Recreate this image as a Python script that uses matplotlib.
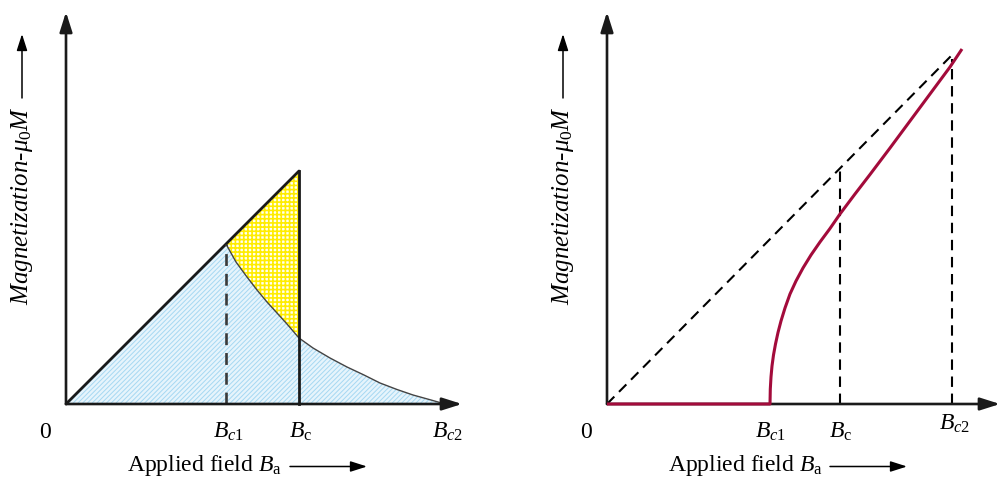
import matplotlib
matplotlib.use("Agg")
import matplotlib.pyplot as plt
import numpy as np

plt.rcParams['font.family'] = ['Liberation Serif', 'DejaVu Serif']
plt.rcParams['mathtext.fontset'] = 'custom'
plt.rcParams['mathtext.rm'] = 'Liberation Serif'
plt.rcParams['mathtext.it'] = 'Liberation Serif:italic'
plt.rcParams['mathtext.bf'] = 'Liberation Serif:bold'

# ---- Type I superconductor (left) ----
left_bc1 = 1.60
left_bc = 2.33
left_bc2 = 3.79
# reversible magnetization beyond Bc1 (mixed-state branch)
left_curve_b = [1.60, 1.70, 1.81, 1.91, 2.01, 2.11, 2.21, 2.33, 2.47, 2.64, 2.81, 2.98, 3.14, 3.31, 3.47, 3.65, 3.79]
left_curve_m = [1.60, 1.42, 1.27, 1.14, 1.02, 0.91, 0.80, 0.66, 0.56, 0.46, 0.37, 0.29, 0.21, 0.145, 0.09, 0.04, 0.00]

# ---- Type II superconductor (right) ----
right_bc1 = 1.63
right_bc = 2.33
right_bc2 = 3.45
right_curve_b = [0.00, 1.630, 1.633, 1.640, 1.650, 1.665, 1.685, 1.710, 1.740, 1.780,
                 1.830, 1.890, 1.960, 2.040, 2.130, 2.230, 2.330, 2.480, 2.630,
                 2.830, 3.030, 3.230, 3.430, 3.550]
right_curve_m = [0.00, 0.000, 0.150, 0.270, 0.380, 0.490, 0.600, 0.715, 0.830, 0.960,
                 1.100, 1.230, 1.360, 1.490, 1.620, 1.755, 1.900, 2.100, 2.295,
                 2.560, 2.830, 3.100, 3.370, 3.550]

FS = 17
FS_Y = 18
fig = plt.figure(figsize=(10.01, 4.79), dpi=100)
axL = fig.add_axes([0, 0, 0.5, 1])
axR = fig.add_axes([0.5, 0, 0.5, 1])
axL.set_xlim(-0.66, 4.345)
axR.set_xlim(-1.065, 3.94)
for ax in (axL, axR):
    ax.set_ylim(-0.75, 4.04)
    ax.axis('off')


def axis_arrow(ax, x0, y0, x1, y1):
    ax.annotate('', xy=(x1, y1), xytext=(x0, y0),
                arrowprops=dict(arrowstyle='-|>,head_length=1.2,head_width=0.38',
                                mutation_scale=10, lw=1.9, color='#1a1a1a',
                                shrinkA=0, shrinkB=0), zorder=6)


def small_arrow(ax, x0, y0, x1, y1):
    ax.annotate('', xy=(x1, y1), xytext=(x0, y0),
                arrowprops=dict(arrowstyle='-|>,head_length=1.0,head_width=0.32',
                                mutation_scale=10, lw=1.1, color='black',
                                shrinkA=0, shrinkB=0))


def decorate(ax, xmax, labels, xlab_x, arrow_x):
    axis_arrow(ax, 0, 0, 0, 3.92)
    axis_arrow(ax, 0, 0, xmax, 0)
    ax.text(-0.21, -0.28, '0', fontsize=FS, ha='center', va='center')
    for x, y, s in labels:
        ax.text(x, y, s, fontsize=FS, ha='center', va='center')
    ax.text(xlab_x, -0.61, r'Applied field $B_{\mathrm{a}}$', fontsize=FS,
            ha='left', va='center')
    small_arrow(ax, arrow_x[0], -0.625, arrow_x[1], -0.625)
    ax.text(-0.44, 0.99, r'Magnetization-$\mu_0M$', fontsize=FS_Y, style='italic',
            rotation=90, rotation_mode='anchor', ha='left', va='center')
    small_arrow(ax, -0.44, 3.06, -0.44, 3.70)


# ---- left panel ----
cb = np.array(left_curve_b)
cm = np.array(left_curve_m)
plt.rcParams['hatch.linewidth'] = 0.7
blue_x = np.concatenate([[0.0], cb])
blue_y = np.concatenate([[0.0], cm])
axL.fill_between(blue_x, 0, blue_y, facecolor='#e6f4fc', edgecolor='#a6d8f2',
                 hatch='///////', linewidth=0, zorder=1)
sel = cb <= left_bc
yel_x = np.concatenate([[left_bc1, left_bc], cb[sel][::-1]])
yel_y = np.concatenate([[left_bc1, left_bc], cm[sel][::-1]])
plt.rcParams['hatch.linewidth'] = 1.2
axL.fill(yel_x, yel_y, facecolor='#fffff0', edgecolor='#ffec00', hatch='++++',
         linewidth=0, zorder=2)
axL.plot(cb, cm, color='#444444', lw=1.0, zorder=3)
axL.plot([0, left_bc], [0, left_bc], color='#1a1a1a', lw=2.0, zorder=4,
         solid_capstyle='round')
axL.plot([left_bc, left_bc], [0, left_bc], color='#1a1a1a', lw=2.0, zorder=4)
axL.plot([left_bc1, left_bc1], [0, left_bc1], color='#3a3a3a', lw=1.9,
         dashes=(4.5, 3.0), zorder=4)
decorate(axL, 3.96,
         [(left_bc1 + 0.03, -0.28, r'$B_{\mathit{c1}}$'),
          (left_bc + 0.02, -0.28, r'$B_{\mathrm{c}}$'),
          (left_bc2 + 0.03, -0.28, r'$B_{\mathit{c2}}$')],
         0.61, (2.24, 3.01))

# ---- right panel ----
axR.plot([0, right_bc2], [0, right_bc2 + 0.04], color='black', lw=1.5,
         dashes=(5.0, 3.2), zorder=3)
axR.plot([right_bc, right_bc], [0, right_bc], color='black', lw=1.5,
         dashes=(5.0, 3.2), zorder=3)
axR.plot([right_bc2, right_bc2], [0, right_bc2], color='black', lw=1.5,
         dashes=(5.0, 3.2), zorder=3)
axR.plot(right_curve_b, right_curve_m, color='#a30b3b', lw=2.2, zorder=7,
         solid_joinstyle='round', solid_capstyle='butt')
decorate(axR, 3.93,
         [(right_bc1 + 0.01, -0.28, r'$B_{\mathit{c1}}$'),
          (right_bc + 0.01, -0.28, r'$B_{\mathrm{c}}$'),
          (right_bc2 + 0.03, -0.20, r'$B_{\mathit{c2}}$')],
         0.61, (2.23, 3.00))

fig.savefig('out.png', dpi=100)
